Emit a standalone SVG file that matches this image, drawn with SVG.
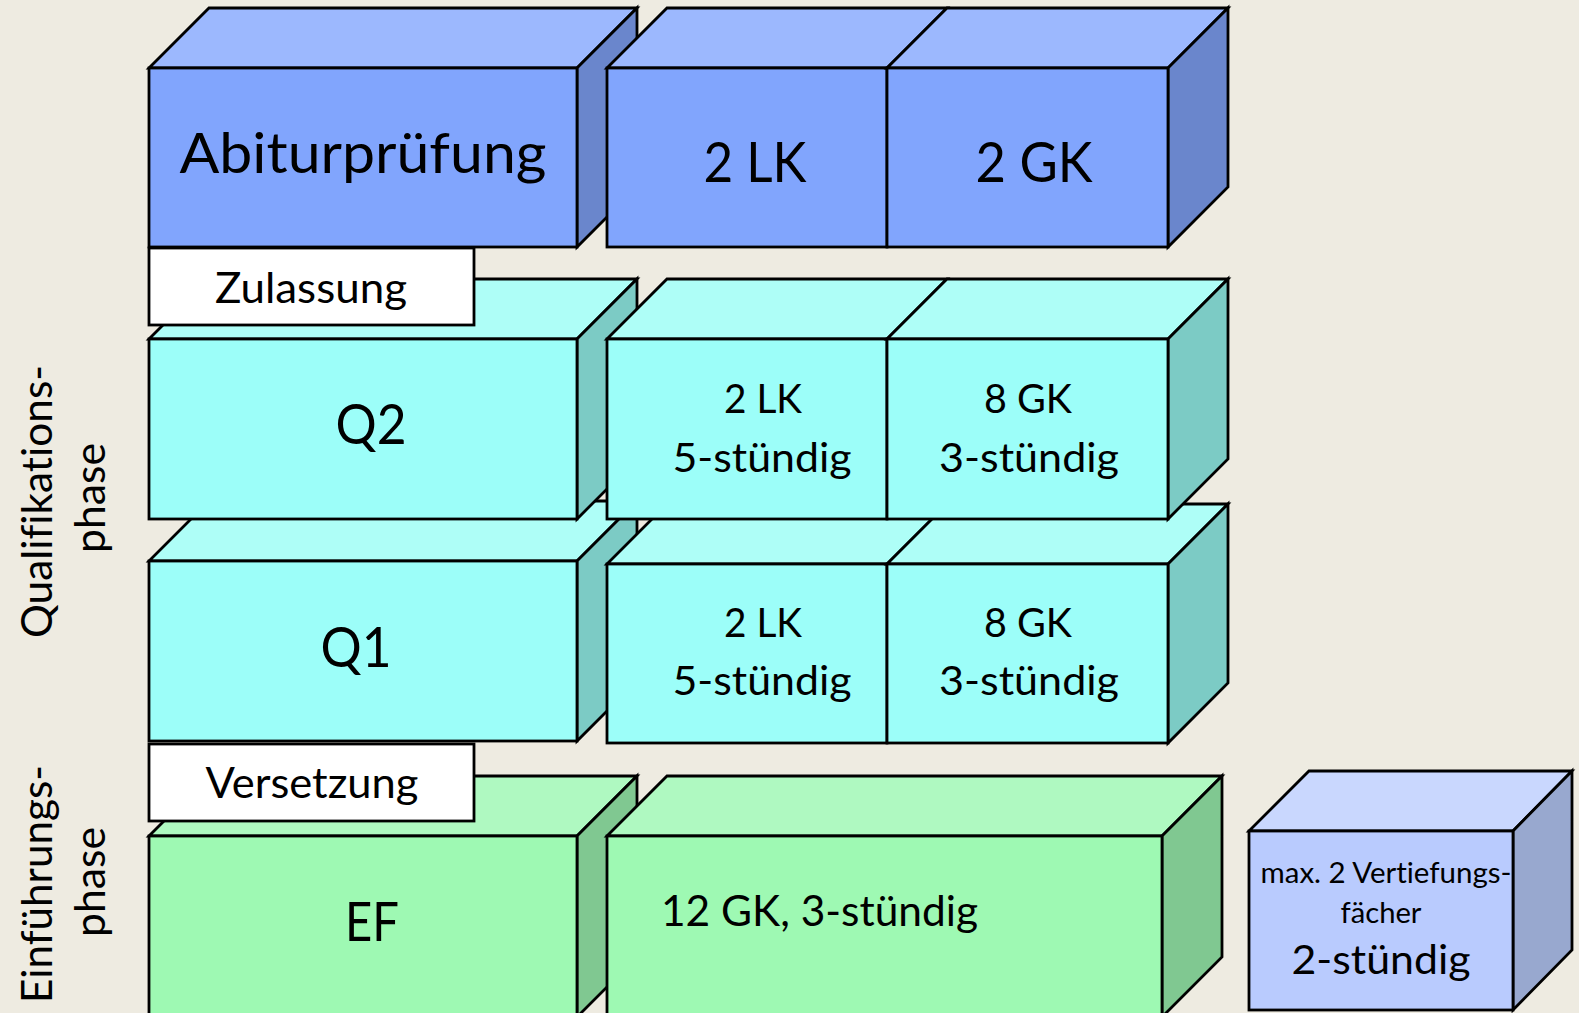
<svg xmlns="http://www.w3.org/2000/svg" width="1579" height="1013" viewBox="0 0 1579 1013">
<defs>
<style>
.s{stroke:#000;stroke-width:2.8;stroke-linejoin:miter}
.bf{fill:#81A5FD}.bt{fill:#9CB8FE}.bs{fill:#6A86CC}
.cf{fill:#9CFEF9}.ct{fill:#AEFEF7}.cs{fill:#7CCBC5}
.gf{fill:#9EF9B3}.gt{fill:#AFF9C1}.gs{fill:#80C891}
.lf{fill:#B9CBFE}.lt{fill:#C9D7FE}.ls{fill:#98A8CF}
.w{fill:#FFFFFF}
text{font-family:Lato,"Liberation Sans",sans-serif;fill:#000;font-variant-ligatures:none;font-feature-settings:"liga" 0,"clig" 0,"dlig" 0}
.m{text-anchor:middle}
</style>
</defs>
<rect x="0" y="0" width="1579" height="1013" fill="#EEEBE1"/>

<g id="abitur">
<polygon class="s bt" points="149,68 209,8 637,8 577,68"/>
<polygon class="s bs" points="577,68 637,8 637,187 577,247"/>
<rect class="s bf" x="149" y="68" width="428" height="179"/>
<text class="m" x="363" y="173" font-size="57" textLength="367" lengthAdjust="spacingAndGlyphs">Abiturprüfung</text>
</g>
<g id="lk-abitur">
<polygon class="s bt" points="607,68 667,8 947,8 887,68"/>
<rect class="s bf" x="607" y="68" width="280" height="179"/>
<text class="m" x="755" y="182" font-size="56" textLength="103" lengthAdjust="spacingAndGlyphs">2 LK</text>
</g>
<g id="gk-abitur">
<polygon class="s bt" points="887,68 947,8 1228,8 1168,68"/>
<polygon class="s bs" points="1168,68 1228,8 1228,187 1168,247"/>
<rect class="s bf" x="887" y="68" width="281" height="179"/>
<text class="m" x="1034" y="182" font-size="56" textLength="117" lengthAdjust="spacingAndGlyphs">2 GK</text>
</g>

<g id="q1">
<polygon class="s ct" points="149,561 209,501 637,501 577,561"/>
<polygon class="s cs" points="577,561 637,501 637,681 577,741"/>
<rect class="s cf" x="149" y="561" width="428" height="180"/>
<text class="m" x="356" y="667" font-size="57" textLength="71" lengthAdjust="spacingAndGlyphs">Q1</text>
</g>
<g id="q1-lk">
<polygon class="s ct" points="607,564 667,504 947,504 887,564"/>
<rect class="s cf" x="607" y="564" width="280" height="179"/>
<text class="m" x="763" y="637" font-size="41.5" textLength="78" lengthAdjust="spacingAndGlyphs">2 LK</text>
<text class="m" x="762" y="695" font-size="41.5" textLength="179" lengthAdjust="spacingAndGlyphs">5-stündig</text>
</g>
<g id="q1-gk">
<polygon class="s ct" points="887,564 947,504 1228,504 1168,564"/>
<polygon class="s cs" points="1168,564 1228,504 1228,683 1168,743"/>
<rect class="s cf" x="887" y="564" width="281" height="179"/>
<text class="m" x="1028" y="637" font-size="41.5" textLength="88" lengthAdjust="spacingAndGlyphs">8 GK</text>
<text class="m" x="1029" y="695" font-size="41.5" textLength="180" lengthAdjust="spacingAndGlyphs">3-stündig</text>
</g>

<g id="q2">
<polygon class="s ct" points="149,339 209,279 637,279 577,339"/>
<polygon class="s cs" points="577,339 637,279 637,459 577,519"/>
<rect class="s cf" x="149" y="339" width="428" height="180"/>
<text class="m" x="371" y="444" font-size="57" textLength="71" lengthAdjust="spacingAndGlyphs">Q2</text>
</g>
<g id="q2-lk">
<polygon class="s ct" points="607,339 667,279 947,279 887,339"/>
<rect class="s cf" x="607" y="339" width="280" height="180"/>
<text class="m" x="763" y="413" font-size="41.5" textLength="78" lengthAdjust="spacingAndGlyphs">2 LK</text>
<text class="m" x="762" y="472" font-size="41.5" textLength="179" lengthAdjust="spacingAndGlyphs">5-stündig</text>
</g>
<g id="q2-gk">
<polygon class="s ct" points="887,339 947,279 1228,279 1168,339"/>
<polygon class="s cs" points="1168,339 1228,279 1228,459 1168,519"/>
<rect class="s cf" x="887" y="339" width="281" height="180"/>
<text class="m" x="1028" y="413" font-size="41.5" textLength="88" lengthAdjust="spacingAndGlyphs">8 GK</text>
<text class="m" x="1029" y="472" font-size="41.5" textLength="180" lengthAdjust="spacingAndGlyphs">3-stündig</text>
</g>

<g id="zulassung">
<rect class="s w" x="149" y="248" width="325" height="77"/>
<text class="m" x="311" y="303" font-size="43" textLength="192" lengthAdjust="spacingAndGlyphs">Zulassung</text>
</g>

<g id="ef">
<polygon class="s gt" points="149,836 209,776 637,776 577,836"/>
<polygon class="s gs" points="577,836 637,776 637,957 577,1017"/>
<rect class="s gf" x="149" y="836" width="428" height="181"/>
<text class="m" x="372" y="941" font-size="55" textLength="54" lengthAdjust="spacingAndGlyphs">EF</text>
</g>
<g id="ef-gk">
<polygon class="s gt" points="607,836 667,776 1222,776 1162,836"/>
<polygon class="s gs" points="1162,836 1222,776 1222,957 1162,1017"/>
<rect class="s gf" x="607" y="836" width="555" height="181"/>
<text x="661" y="926" font-size="42" textLength="317" lengthAdjust="spacingAndGlyphs">12 GK, 3-stündig</text>
</g>

<g id="vertiefung">
<polygon class="s lt" points="1249,831 1309,771 1572,771 1513,831"/>
<polygon class="s ls" points="1513,831 1572,771 1572,950 1513,1010"/>
<rect class="s lf" x="1249" y="831" width="264" height="179"/>
<text class="m" x="1386" y="883" font-size="28" textLength="251" lengthAdjust="spacingAndGlyphs">max. 2 Vertiefungs-</text>
<text class="m" x="1381" y="923" font-size="28" textLength="81" lengthAdjust="spacingAndGlyphs">fächer</text>
<text class="m" x="1381" y="974" font-size="41.5" textLength="179" lengthAdjust="spacingAndGlyphs">2-stündig</text>
</g>

<g id="versetzung">
<rect class="s w" x="149" y="744" width="325" height="77"/>
<text class="m" x="312" y="798" font-size="43" textLength="213" lengthAdjust="spacingAndGlyphs">Versetzung</text>
</g>

<g id="label-qualifikationsphase">
<text class="m" transform="translate(52,501.5) rotate(-90)" font-size="43" textLength="273" lengthAdjust="spacingAndGlyphs">Qualifikations-</text>
<text class="m" transform="translate(105,498) rotate(-90)" font-size="43" textLength="110" lengthAdjust="spacingAndGlyphs">phase</text>
</g>
<g id="label-einfuehrungsphase">
<text class="m" transform="translate(52,884) rotate(-90)" font-size="43" textLength="238" lengthAdjust="spacingAndGlyphs">Einführungs-</text>
<text class="m" transform="translate(105,882) rotate(-90)" font-size="43" textLength="110" lengthAdjust="spacingAndGlyphs">phase</text>
</g>
</svg>
